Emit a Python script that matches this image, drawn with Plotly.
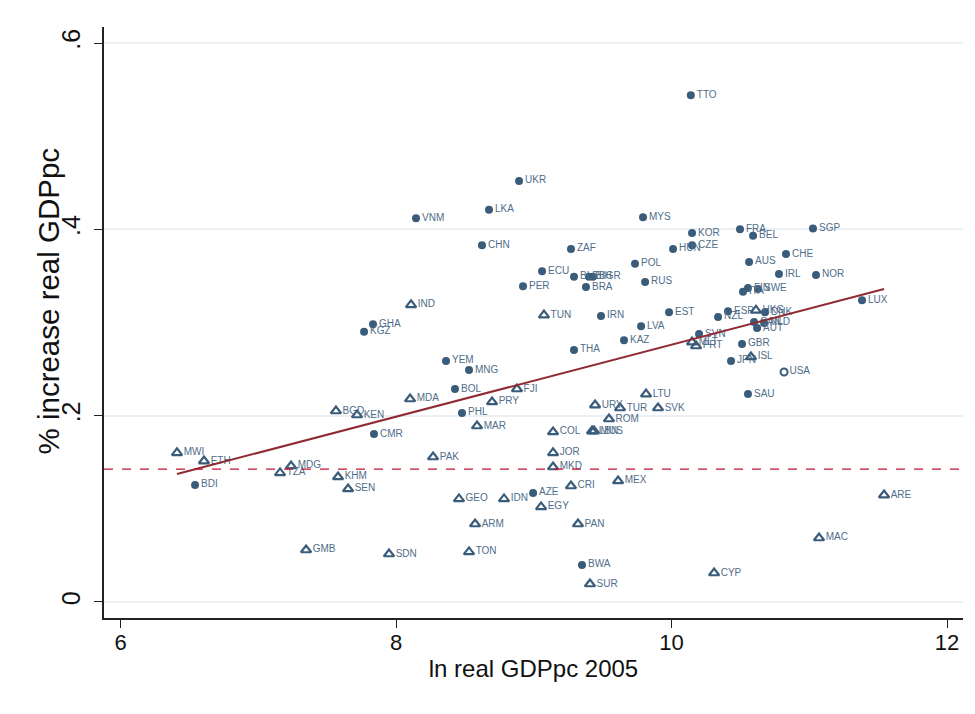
import plotly.graph_objects as go

# Filled circles
circle_codes = ["TTO", "UKR", "LKA", "VNM", "MYS", "KOR", "FRA", "SGP", "BEL", "CZE", "HUN", "CHN", "ZAF",
                "CHE", "AUS", "POL", "IRL", "NOR", "ECU", "BLR", "BIH", "BGR", "PER", "BRA", "RUS", "ITA",
                "FIN", "SWE", "IRN", "EST", "ESP", "NZL", "DNK", "LVA", "CAN", "NLD", "AUT", "SVN", "GBR",
                "KAZ", "JPN", "THA", "YEM", "MNG", "GHA", "KGZ", "BOL", "SAU", "PHL", "CMR", "BDI", "AZE",
                "BWA", "LUX"]
circle_x = [10.14, 8.893, 8.675, 8.145, 9.793, 10.149, 10.497, 11.027, 10.592, 10.149, 10.011, 8.624, 9.270,
            10.831, 10.563, 9.735, 10.780, 11.049, 9.060, 9.292, 9.401, 9.430, 8.922, 9.379, 9.808, 10.519,
            10.555, 10.628, 9.488, 9.982, 10.410, 10.338, 10.679, 9.779, 10.599, 10.672, 10.621, 10.200, 10.512,
            9.655, 10.432, 9.292, 8.363, 8.530, 7.833, 7.768, 8.428, 10.555, 8.479, 7.840, 6.541, 8.995,
            9.350, 11.383]
circle_y = [0.544, 0.452, 0.421, 0.412, 0.413, 0.396, 0.400, 0.401, 0.393, 0.383, 0.379, 0.383, 0.379,
            0.3735, 0.365, 0.363, 0.352, 0.351, 0.355, 0.349, 0.349, 0.349, 0.339, 0.338, 0.3435, 0.333,
            0.337, 0.336, 0.307, 0.311, 0.312, 0.306, 0.311, 0.296, 0.3005, 0.2995, 0.294, 0.2876, 0.277,
            0.281, 0.2587, 0.2705, 0.2587, 0.249, 0.298, 0.290, 0.2286, 0.2232, 0.2029, 0.1803, 0.1256, 0.117,
            0.0397, 0.324]

# Hollow triangles
tri_codes = ["TUN", "HKG", "MLT", "PRT", "ISL", "IND", "FJI", "LTU", "PRY", "MDA", "URY", "TUR", "SVK",
             "BGD", "KEN", "ROM", "MAR", "COL", "LBN", "MUS", "JOR", "MKD", "MWI", "ETH", "MDG", "TZA",
             "PAK", "KHM", "SEN", "MEX", "CRI", "GEO", "IDN", "EGY", "ARE", "ARM", "PAN", "MAC", "GMB",
             "SDN", "TON", "SUR", "CYP"]
tri_x = [9.074, 10.613, 10.149, 10.178, 10.577, 8.109, 8.878, 9.815, 8.697, 8.102, 9.445, 9.626, 9.902,
         7.564, 7.717, 9.546, 8.588, 9.140, 9.423, 9.437, 9.140, 9.140, 6.410, 6.606, 7.238, 7.158,
         8.269, 7.579, 7.652, 9.612, 9.270, 8.457, 8.784, 9.053, 11.543, 8.574, 9.321, 11.071, 7.347,
         7.949, 8.530, 9.408, 10.309]
tri_y = [0.308, 0.313, 0.279, 0.2748, 0.263, 0.319, 0.2286, 0.2232, 0.2147, 0.2179, 0.2114, 0.2082, 0.2082,
         0.205, 0.2007, 0.1964, 0.1889, 0.1825, 0.1835, 0.1835, 0.160, 0.1449, 0.160, 0.1513, 0.146, 0.1385,
         0.1556, 0.1342, 0.1213, 0.1299, 0.1245, 0.1106, 0.1106, 0.102, 0.1148, 0.0837, 0.0837, 0.0687, 0.0558,
         0.0515, 0.0537, 0.0193, 0.0311]

# Hollow circle
hollow_codes = ["USA"]
hollow_x = [10.817]
hollow_y = [0.2469]

# Fitted line and reference line
fit_x = [6.410, 11.543]
fit_y = [0.1374, 0.3359]
ref_y = 0.1427

x_ticks = [6, 8, 10, 12]
x_ticklabels = ["6", "8", "10", "12"]
y_ticks = [0, 0.2, 0.4, 0.6]
y_ticklabels = ["0", ".2", ".4", ".6"]

MARK = "#3a5c7b"
LAB = "#4f6d89"
label_font = dict(family="Liberation Sans, Arial", size=10, color=LAB)
big_font = "Liberation Sans, Arial"

PLOT_W = 859
PLOT_H = 591

fig = go.Figure()

fig.add_hline(y=ref_y, line=dict(color="#c8102e", width=1.2, dash="dash"))

fig.add_trace(go.Scatter(
    x=circle_x, y=circle_y, mode="markers+text", text=circle_codes, textposition="middle right",
    textfont=label_font, marker=dict(symbol="circle", size=8, color=MARK), cliponaxis=False,
    showlegend=False, hoverinfo="skip"))
fig.add_trace(go.Scatter(
    x=tri_x, y=tri_y, mode="markers+text", text=tri_codes, textposition="middle right",
    textfont=label_font,
    marker=dict(symbol="triangle-up-open", size=9, color=MARK, line=dict(width=2.2, color=MARK)),
    cliponaxis=False, showlegend=False, hoverinfo="skip"))
fig.add_trace(go.Scatter(
    x=hollow_x, y=hollow_y, mode="markers+text", text=hollow_codes, textposition="middle right",
    textfont=label_font,
    marker=dict(symbol="circle-open", size=7, color=MARK, line=dict(width=2, color=MARK)),
    cliponaxis=False, showlegend=False, hoverinfo="skip"))
fig.add_trace(go.Scatter(
    x=fit_x, y=fit_y, mode="lines", line=dict(color="#8f2a33", width=2),
    showlegend=False, hoverinfo="skip"))

# outer light frame (graph region)
fig.add_shape(type="rect", xref="paper", yref="paper", x0=-100 / PLOT_W, x1=1.05, y0=-0.2, y1=1 + 24 / PLOT_H,
              line=dict(color="#e6edf1", width=1.5), fillcolor="rgba(0,0,0,0)", layer="below")

# y-axis title placed as annotation for precise position
fig.add_annotation(text="% increase real GDPpc", xref="paper", yref="paper",
                   x=-56 / PLOT_W, y=0.5 + 21 / PLOT_H, xanchor="center", yanchor="middle",
                   textangle=-90, showarrow=False,
                   font=dict(family=big_font, size=29.5, color="#111111"))

fig.update_layout(
    width=975, height=714,
    margin=dict(l=96, r=20, t=19, b=104),
    paper_bgcolor="white", plot_bgcolor="white",
    font=dict(family=big_font, color="#111111"),
    xaxis=dict(range=[5.880, 12.116], tickvals=x_ticks, ticktext=x_ticklabels, automargin=False,
               showgrid=False, zeroline=False, showline=True, linecolor="#222222", linewidth=1.5,
               ticks="outside", ticklen=8, tickwidth=1.2, tickcolor="#222222", ticklabelstandoff=-4,
               tickfont=dict(family=big_font, size=22, color="#111111"),
               title=dict(text="ln real GDPpc 2005", font=dict(family=big_font, size=24, color="#111111"),
                          standoff=6)),
    yaxis=dict(range=[-0.0172, 0.6172], tickvals=y_ticks, ticktext=y_ticklabels, tickangle=-90,
               automargin=False, ticklabelstandoff=4,
               showgrid=True, gridcolor="#eaf0f3", gridwidth=1.5, zeroline=False,
               showline=True, linecolor="#222222", linewidth=1.5,
               ticks="outside", ticklen=8, tickwidth=1.2, tickcolor="#222222",
               tickfont=dict(family=big_font, size=25, color="#111111")),
)

fig.write_html("out.html")
